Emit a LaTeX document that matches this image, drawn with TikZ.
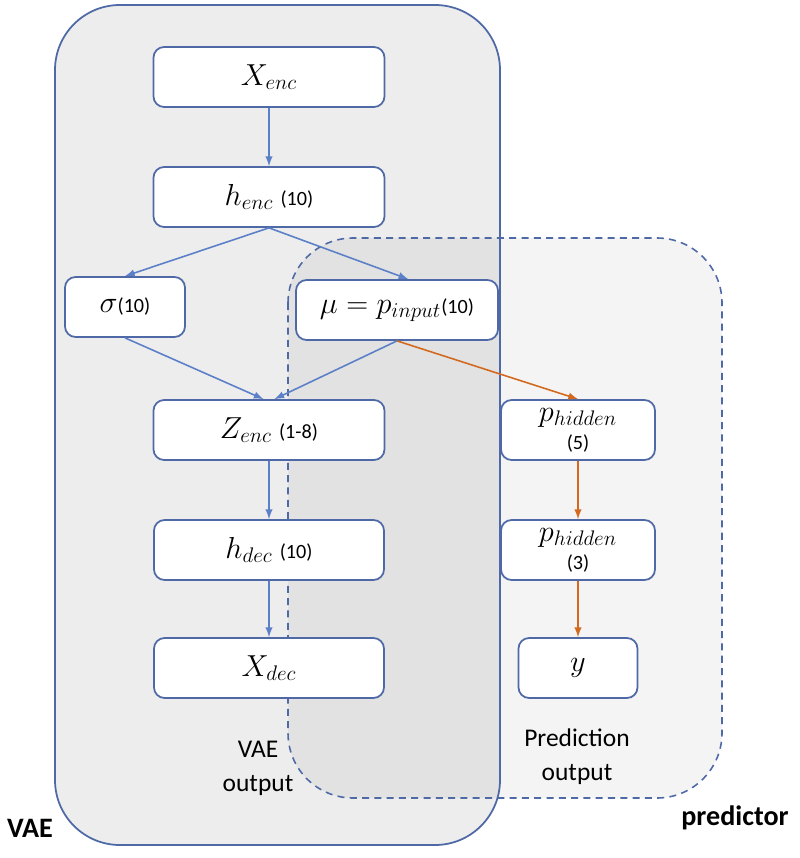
\documentclass[tikz,border=0pt]{standalone}
\usepackage{fontspec}
\setmainfont{Carlito}
\definecolor{boxblue}{HTML}{4F69A6}
\definecolor{arrblue}{HTML}{5B80C8}
\definecolor{arrorange}{HTML}{D2691E}
\definecolor{vaegray}{HTML}{EDEDED}
\newcommand\dims[1]{{\fontsize{11.5}{12}\selectfont #1}}
\tikzstyle{layer}=[draw=boxblue, line width=1pt, fill=white, rounded corners=6pt, minimum height=1.2cm, inner sep=2pt, font=\fontsize{18}{19}\selectfont]
\tikzstyle{flow}=[->, arrblue, line width=.9pt]
\tikzstyle{pred}=[->, arrorange, line width=.9pt]
\tikzstyle{caption}=[align=center, font=\fontsize{14.5}{19.5}\selectfont]
\tikzstyle{group}=[font=\fontsize{16}{18}\selectfont\bfseries]

\begin{document}
\begin{tikzpicture}[>=latex, x=.02cm, y=-.02cm]
    \useasboundingbox (0,0) rectangle (800,858);

    % Groups
    \fill[vaegray, rounded corners=1.3cm] (55,5) rectangle (500,845);
    \fill[black, fill opacity=.045, rounded corners=1.3cm] (288,238) rectangle (722,798);
    \draw[boxblue, line width=1pt, rounded corners=1.3cm] (55,5) rectangle (500,845);
    \draw[boxblue, line width=.9pt, dash pattern=on 4pt off 3pt, rounded corners=1.3cm] (288,238) rectangle (722,798);

    % Layers
    \draw (269,77) node[layer, minimum width=4.62cm] (xenc) {$X_{enc}$};
    \draw (269,197) node[layer, minimum width=4.62cm] (henc) {$h_{enc}$ \dims{(10)}};
    \draw (125,307) node[layer, minimum width=2.4cm] (sigma) {$\sigma$\dims{(10)}};
    \draw (397,310) node[layer, minimum width=4.04cm] (mu) {$\mu = p_{input}$\dims{(10)}};
    \draw (269,430) node[layer, minimum width=4.62cm] (zenc) {$Z_{enc}$ \dims{(1-8)}};
    \draw (269,550) node[layer, minimum width=4.6cm] (hdec) {$h_{dec}$ \dims{(10)}};
    \draw (269,668) node[layer, minimum width=4.6cm] (xdec) {$X_{dec}$};
    \draw (578,430) node[layer, minimum width=3.08cm, align=center] (phid5) {$p_{hidden}$\\[-3pt]\dims{(5)}};
    \draw (578,550) node[layer, minimum width=3.08cm, align=center] (phid3) {$p_{hidden}$\\[-3pt]\dims{(3)}};
    \draw (578,668) node[layer, minimum width=2.38cm] (y) {$y$};

    % Labels
    \draw (258,768) node[caption] (vaeout) {VAE\\output};
    \draw (577,757) node[caption] (predout) {Prediction\\output};
    \draw (30,828) node[group] (vaelbl) {VAE};
    \draw (735,818) node[group] (predlbl) {predictor};

    % Connections
    \draw[flow] (xenc) -- (henc);
    \draw[flow] (henc.south) -- (sigma.north);
    \draw[flow] (henc.south) -- (mu.70);
    \draw[flow] (sigma.south) -- (zenc.100);
    \draw[flow] (mu.south) -- (zenc.80);
    \draw[flow] (zenc) -- (hdec);
    \draw[flow] (hdec) -- (xdec);
    \draw[pred] (mu.south) -- (phid5.north);
    \draw[pred] (phid5) -- (phid3);
    \draw[pred] (phid3) -- (y);

\end{tikzpicture}
\end{document}
